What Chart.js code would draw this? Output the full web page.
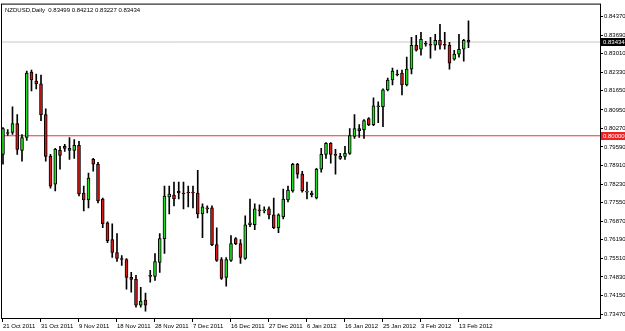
<!DOCTYPE html>
<html>
<head>
    <title>NZDUSD Daily</title>
    <style>
        html, body { margin: 0; padding: 0; background: #ffffff; }
        #chart-container { width: 625px; height: 331px; position: relative; }
    </style>
</head>
<body>
    <div id="chart-container">
        <canvas id="myChart" width="625" height="331"></canvas>
    </div>

    <script src="https://cdn.jsdelivr.net/npm/chart.js"></script>
    <script>
        // Daily candles (one per bar, Sunday bars included)
        const opens = [
            0.79319, 0.80082, 0.80119, 0.80446, 0.79465, 0.79937, 0.82335, 0.82008, 0.81899, 0.80773,
            0.79247, 0.78229, 0.79465, 0.79610, 0.79537, 0.79465, 0.79646, 0.77902, 0.77648, 0.79138,
            0.78956, 0.77684, 0.76812, 0.76194, 0.75722, 0.75504, 0.75468, 0.74813, 0.74741, 0.73796,
            0.73978, 0.74886, 0.74850, 0.75358, 0.76231, 0.77757, 0.77829, 0.77975, 0.77902, 0.77938,
            0.77938, 0.77902, 0.77139, 0.77357, 0.77357, 0.76012, 0.75468, 0.74813, 0.75431, 0.76231,
            0.76049, 0.75504, 0.76739, 0.76739, 0.77284, 0.77248, 0.77321, 0.77103, 0.76630, 0.77030,
            0.77648, 0.77975, 0.78956, 0.78592, 0.77938, 0.77829, 0.77720, 0.78774, 0.79319, 0.79719,
            0.79319, 0.79174, 0.79247, 0.79356, 0.79973, 0.80264, 0.80228, 0.80627, 0.80409, 0.81063,
            0.81063, 0.81681, 0.82044, 0.82262, 0.82299, 0.81863, 0.82444, 0.83316, 0.83171, 0.83389,
            0.83353, 0.83316, 0.83498, 0.83353, 0.83316, 0.82808, 0.82989, 0.83171, 0.83499
        ];
        const highs = [
            0.80300, 0.80228, 0.81063, 0.80773, 0.80046, 0.82372, 0.82408, 0.82262, 0.82226, 0.80991,
            0.79319, 0.79537, 0.79610, 0.79683, 0.79937, 0.79864, 0.79792, 0.78156, 0.78629, 0.79174,
            0.79029, 0.77720, 0.76848, 0.76776, 0.76412, 0.75613, 0.75504, 0.74995, 0.74886, 0.74450,
            0.74232, 0.75068, 0.75686, 0.76412, 0.78156, 0.78156, 0.78302, 0.78302, 0.78302, 0.78156,
            0.78156, 0.78738, 0.77502, 0.77430, 0.77430, 0.76630, 0.75540, 0.75540, 0.76340, 0.76267,
            0.76194, 0.77066, 0.77684, 0.77502, 0.77466, 0.77393, 0.77393, 0.77720, 0.77139, 0.78047,
            0.78156, 0.78992, 0.78992, 0.78701, 0.78302, 0.77975, 0.78810, 0.79537, 0.79755, 0.79755,
            0.79501, 0.79356, 0.79610, 0.80264, 0.80773, 0.80409, 0.80591, 0.80664, 0.81390, 0.81245,
            0.81717, 0.82117, 0.82481, 0.82408, 0.82408, 0.82880, 0.83607, 0.83680, 0.83789, 0.83462,
            0.83607, 0.83716, 0.84079, 0.83789, 0.83425, 0.83135, 0.83716, 0.83534, 0.84212
        ];
        const lows = [
            0.78956, 0.80010, 0.80046, 0.79319, 0.79065, 0.79828, 0.81645, 0.81717, 0.80555, 0.79065,
            0.78084, 0.77975, 0.78774, 0.79428, 0.79138, 0.79174, 0.77793, 0.77248, 0.77357, 0.78701,
            0.77539, 0.76630, 0.76085, 0.75540, 0.75395, 0.75249, 0.74377, 0.74268, 0.73723, 0.73723,
            0.73578, 0.74632, 0.74704, 0.74995, 0.75686, 0.77139, 0.77430, 0.77684, 0.77321, 0.77393,
            0.77357, 0.76994, 0.76267, 0.77175, 0.75976, 0.75395, 0.74741, 0.74486, 0.75395, 0.76012,
            0.75322, 0.75468, 0.76667, 0.76558, 0.77066, 0.77175, 0.76957, 0.76594, 0.76449, 0.76957,
            0.77575, 0.77938, 0.78447, 0.77938, 0.77684, 0.77757, 0.77684, 0.78665, 0.79174, 0.78992,
            0.78592, 0.79138, 0.79138, 0.79319, 0.79901, 0.79937, 0.79901, 0.80373, 0.80373, 0.80482,
            0.80337, 0.81645, 0.81863, 0.82190, 0.81499, 0.81826, 0.82262, 0.83098, 0.82953, 0.83280,
            0.82844, 0.83135, 0.83171, 0.83171, 0.82444, 0.82771, 0.82880, 0.82735, 0.83227
        ];
        const closes = [
            0.80264, 0.80119, 0.80446, 0.79501, 0.79937, 0.82299, 0.82044, 0.81899, 0.80773, 0.79247,
            0.78156, 0.79501, 0.79283, 0.79537, 0.79465, 0.79646, 0.77866, 0.77648, 0.78447, 0.78956,
            0.77611, 0.76776, 0.76158, 0.75722, 0.75504, 0.75468, 0.74813, 0.74741, 0.73796, 0.73941,
            0.73796, 0.74850, 0.75395, 0.76231, 0.77793, 0.77866, 0.77684, 0.77902, 0.77866, 0.77902,
            0.77902, 0.77139, 0.77393, 0.77321, 0.76012, 0.75431, 0.74777, 0.75468, 0.76049, 0.76049,
            0.75540, 0.76739, 0.76812, 0.77321, 0.77248, 0.77284, 0.77103, 0.76630, 0.77103, 0.77684,
            0.78011, 0.78956, 0.78592, 0.77975, 0.77975, 0.77902, 0.78774, 0.79319, 0.79719, 0.79319,
            0.79283, 0.79247, 0.79356, 0.80010, 0.80264, 0.80191, 0.80555, 0.80409, 0.81100, 0.81100,
            0.81681, 0.82044, 0.82372, 0.82226, 0.81863, 0.82444, 0.83316, 0.83135, 0.83534, 0.83353,
            0.83316, 0.83498, 0.83316, 0.83316, 0.82662, 0.82989, 0.83171, 0.83498, 0.83434
        ];

        // Time axis: bar index of each date label
        const dateLabels = ['21 Oct 2011', '31 Oct 2011', '9 Nov 2011', '18 Nov 2011', '28 Nov 2011',
            '7 Dec 2011', '16 Dec 2011', '27 Dec 2011', '6 Jan 2012', '16 Jan 2012', '25 Jan 2012',
            '3 Feb 2012', '13 Feb 2012'];
        const dateBars = [0, 8, 16, 24, 32, 40, 48, 56, 64, 72, 80, 88, 96];

        // Price axis ticks as printed
        const priceTicks = [0.84370, 0.83690, 0.83010, 0.82330, 0.81650, 0.80950, 0.80270, 0.79590,
            0.78910, 0.78230, 0.77550, 0.76870, 0.76190, 0.75510, 0.74830, 0.74150, 0.73470];
        const levelLine = 0.80000;
        const symbol = 'NZDUSD,Daily';

        const xMin = -0.21, xMax = 125.69;
        const yMin = 0.733235, yMax = 0.84806;

        const upColor = '#22dd22';
        const downColor = '#d61818';
        const last = opens.length - 1;

        const bodies = opens.map((o, i) => ({ x: i, y: [o, closes[i]] }));
        const wicks = opens.map((o, i) => ({ x: i, y: [lows[i], highs[i]] }));
        const bodyColors = opens.map((o, i) => closes[i] >= o ? upColor : downColor);

        // Draws the frame, header text and the price boxes on the right axis
        const mtPlugin = {
            id: 'mtPlugin',
            afterDraw(chart) {
                const ctx = chart.ctx;
                const a = chart.chartArea;
                const ys = chart.scales.y;
                ctx.save();
                ctx.strokeStyle = '#000';
                ctx.lineWidth = 1;
                ctx.strokeRect(a.left - 0.5, a.top - 0.5, a.right - a.left + 1, a.bottom - a.top + 1);

                ctx.font = '6px "Liberation Sans"';
                ctx.fillStyle = '#000';
                ctx.textBaseline = 'middle';
                ctx.textAlign = 'left';
                const head = symbol + '  ' + [opens[last], highs[last], lows[last], closes[last]]
                    .map(v => v.toFixed(5)).join(' ');
                ctx.fillText(head, a.left + 3, a.top + 6);

                const boxes = [[closes[last], '#000000'], [levelLine, '#ee2222']];
                boxes.forEach(([v, c]) => {
                    const y = Math.round(ys.getPixelForValue(v));
                    ctx.fillStyle = c;
                    ctx.fillRect(a.right + 1, y - 4, 24, 8);
                    ctx.fillStyle = '#fff';
                    ctx.fillText(v.toFixed(5), a.right + 3, y);
                });
                ctx.restore();
            }
        };

        const ctx = document.getElementById('myChart').getContext('2d');
        const myChart = new Chart(ctx, {
            type: 'bar',
            data: {
                datasets: [
                    {
                        type: 'line',
                        data: [{ x: xMin, y: levelLine }, { x: xMax, y: levelLine }],
                        borderColor: '#e03a3a',
                        borderWidth: 1,
                        pointRadius: 0,
                        order: 5
                    },
                    {
                        type: 'line',
                        data: [{ x: xMin, y: closes[last] }, { x: xMax, y: closes[last] }],
                        borderColor: '#c8c8c8',
                        borderWidth: 1,
                        pointRadius: 0,
                        order: 4
                    },
                    {
                        data: wicks,
                        backgroundColor: '#000',
                        barThickness: 1,
                        grouped: false,
                        order: 3
                    },
                    {
                        data: bodies,
                        backgroundColor: bodyColors,
                        borderColor: '#000',
                        borderWidth: 1,
                        borderSkipped: false,
                        barThickness: 3,
                        minBarLength: 1,
                        grouped: false,
                        order: 1
                    }
                ]
            },
            options: {
                animation: false,
                responsive: false,
                events: [],
                layout: { padding: { left: 2, top: 2, right: 0, bottom: 0 } },
                plugins: {
                    legend: { display: false },
                    tooltip: { enabled: false }
                },
                scales: {
                    x: {
                        type: 'linear',
                        offset: false,
                        min: xMin,
                        max: xMax,
                        afterBuildTicks: s => { s.ticks = dateBars.map(v => ({ value: v })); },
                        afterFit: s => { s.height = 13; },
                        grid: { offset: false, drawOnChartArea: false, tickLength: 4, tickColor: '#000' },
                        border: { color: '#000' },
                        ticks: {
                            autoSkip: false,
                            maxRotation: 0,
                            align: 'start',
                            padding: 1,
                            color: '#000',
                            font: { family: 'Liberation Sans', size: 6 },
                            callback: (v) => dateLabels[dateBars.indexOf(v)]
                        }
                    },
                    y: {
                        position: 'right',
                        min: yMin,
                        max: yMax,
                        afterBuildTicks: s => { s.ticks = priceTicks.map(v => ({ value: v })); },
                        afterFit: s => { s.width = 25; },
                        grid: { drawOnChartArea: false, tickLength: 3, tickColor: '#000' },
                        border: { color: '#000' },
                        ticks: {
                            padding: 1,
                            color: '#000',
                            font: { family: 'Liberation Sans', size: 6 },
                            callback: (v) => v.toFixed(5)
                        }
                    }
                }
            },
            plugins: [mtPlugin]
        });
    </script>
</body>
</html>
